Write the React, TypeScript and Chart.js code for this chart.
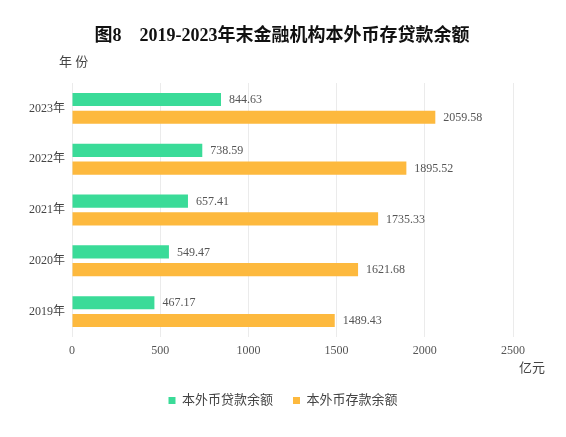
import React, { useEffect, useRef } from "react";
import { Chart, registerables } from "chart.js";

Chart.register(...registerables);

const categories = ["2023年", "2022年", "2021年", "2020年", "2019年"];
const loans = [844.63, 738.59, 657.41, 549.47, 467.17];
const deposits = [2059.58, 1895.52, 1735.33, 1621.68, 1489.43];
const seriesNames = ["本外币贷款余额", "本外币存款余额"];
const xTicksMax = 2500;
const xTickStep = 500;
const titleText = "图8    2019-2023年末金融机构本外币存贷款余额";
const yAxisName = "年 份";
const xAxisName = "亿元";

const SERIF = "'Liberation Serif', 'Noto Sans CJK SC', serif";

const labelPlugin = {
  id: "customText",
  afterLayout(chart: any) {
    if (chart.legend) {
      chart.legend.left = 0;
      chart.legend.right = chart.width;
    }
  },
  afterDatasetsDraw(chart: any) {
    const ctx = chart.ctx;
    ctx.save();
    // value labels
    ctx.font = `12px ${SERIF}`;
    ctx.fillStyle = "#555";
    ctx.textAlign = "left";
    ctx.textBaseline = "middle";
    chart.data.datasets.forEach((ds: any, i: number) => {
      const meta = chart.getDatasetMeta(i);
      meta.data.forEach((bar: any, j: number) => {
        const v = ds.data[j];
        ctx.fillText(v.toFixed(2), bar.x + 8, bar.y + 0.5);
      });
    });
    // title
    ctx.font = `bold 18px ${SERIF}`;
    ctx.fillStyle = "#111";
    ctx.textAlign = "center";
    ctx.fillText(titleText, 282, 36);
    // axis names
    ctx.font = `13px ${SERIF}`;
    ctx.fillStyle = "#444";
    ctx.textAlign = "left";
    ctx.fillText(yAxisName, 59, 63);
    ctx.fillText(xAxisName, 519, 369);
    ctx.restore();
  },
};

export default function App() {
  const ref = useRef<HTMLCanvasElement | null>(null);
  useEffect(() => {
    if (!ref.current) return;
    const chart = new Chart(ref.current, {
      type: "bar",
      data: {
        labels: categories,
        datasets: [
          {
            label: seriesNames[0],
            data: loans,
            backgroundColor: "#3ADB98",
            categoryPercentage: 0.7,
            barPercentage: 0.74,
          },
          {
            label: seriesNames[1],
            data: deposits,
            backgroundColor: "#FDB93E",
            categoryPercentage: 0.7,
            barPercentage: 0.74,
          },
        ],
      },
      options: {
        indexAxis: "y",
        animation: false,
        responsive: false,
        maintainAspectRatio: false,
        layout: { padding: { top: 83, right: 53, bottom: 20, left: 0 } },
        scales: {
          x: {
            min: 0,
            max: xTicksMax,
            ticks: {
              stepSize: xTickStep,
              padding: 7,
              color: "#555",
              font: { family: SERIF, size: 12 },
              callback: (v: any) => String(v),
            },
            grid: { color: "#ebebeb", drawTicks: false },
            border: { display: false },
            afterFit(scale: any) {
              scale.height = 37;
            },
          },
          y: {
            ticks: {
              padding: 7,
              color: "#444",
              font: { family: SERIF, size: 12 },
            },
            grid: { display: false, drawTicks: false },
            border: { display: false },
            afterFit(scale: any) {
              scale.width = 72;
            },
          },
        },
        plugins: {
          legend: {
            position: "bottom",
            labels: {
              boxWidth: 7,
              boxHeight: 7,
              padding: 20,
              color: "#444",
              font: { family: SERIF, size: 13 },
            },
          },
          title: { display: false },
          tooltip: { enabled: false },
        },
      },
      plugins: [labelPlugin],
    });
    return () => chart.destroy();
  }, []);
  return (
    <div style={{ position: "fixed", left: 0, top: 0, width: 566, height: 437, background: "#fff" }}>
      <canvas ref={ref} width={566} height={437} style={{ width: 566, height: 437 }} />
    </div>
  );
}
